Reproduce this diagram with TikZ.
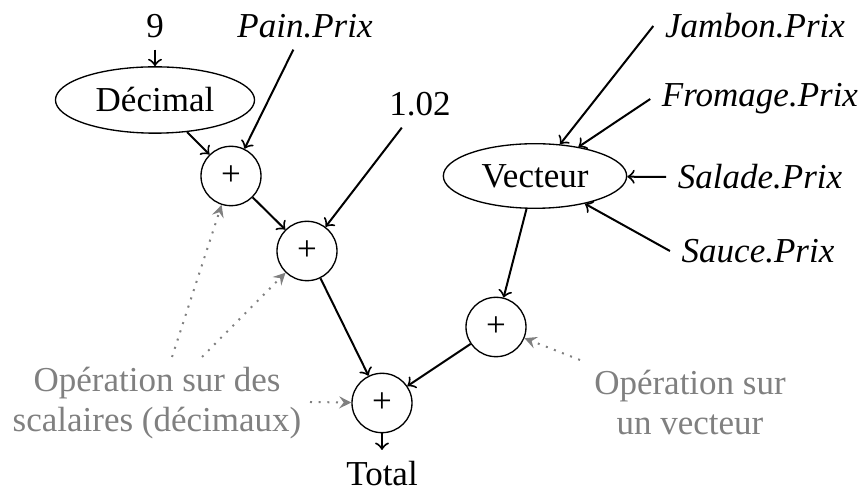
\documentclass[tikz,border=0pt]{standalone}
\usepackage{fontspec}
\setmainfont{Liberation Serif}
\usetikzlibrary{shapes.geometric}
\begin{document}
\begin{tikzpicture}[x=0.3pt, y=-0.3pt,
	every node/.style={font=\fontsize{10.5}{12}\selectfont},
	bloc/.style={ellipse, draw, minimum height=19pt},
	op/.style={ellipse, draw, minimum width=18pt, minimum height=16pt},
	note/.style={gray, align=center},
	fl/.style={->, semithick},
	renvoi/.style={-stealth, gray, dotted, semithick}]
\useasboundingbox (0, 0) rectangle (861, 490);

\node (neuf) at (155, 26) {9};
\node (pain) at (305, 26) {\textit{Pain.Prix}};
\node (jambon) at (755, 26) {\textit{Jambon.Prix}};

\node[bloc, minimum width=59pt] (dec) at (155, 100) {Décimal};
\node (cst) at (420, 104) {1.02};
\node (fromage) at (760, 99) {\textit{Fromage.Prix}};

\node[bloc, minimum width=55pt] (vec) at (535, 176) {Vecteur};
\node (salade) at (760, 177) {\textit{Salade.Prix}};
\node (sauce) at (758, 251) {\textit{Sauce.Prix}};

\node[op] (p1) at (231, 176) {+};
\node[op] (p2) at (307, 251) {+};
\node[op] (p3) at (496, 327) {+};
\node[op] (p4) at (382, 403) {+};

\node (total) at (382, 474) {Total};

\node[note] (n1) at (157, 403) {Opération sur des\\scalaires (décimaux)};
\node[note] (n2) at (690, 403) {Opération sur\\un vecteur};

\coordinate (c1) at (172, 357);
\coordinate (c2) at (202, 357);
\coordinate (c3) at (310, 402);
\coordinate (c4) at (580, 360);

\draw[fl] (neuf) -- (dec);
\draw[fl] (dec) -- (p1);
\draw[fl] (pain) -- (p1);
\draw[fl] (p1) -- (p2);
\draw[fl] (cst) -- (p2);
\draw[fl] (p2) -- (p4);

\draw[fl] (jambon.west) -- (vec);
\draw[fl] (fromage.west) -- (vec);
\draw[fl] (salade.west) -- (vec);
\draw[fl] (sauce.west) -- (vec);

\draw[fl] (vec) -- (p3);
\draw[fl] (p3) -- (p4);
\draw[fl] (p4) -- (total);

\draw[renvoi] (c1) -- (p1);
\draw[renvoi] (c2) -- (p2);
\draw[renvoi] (c3) -- (p4);
\draw[renvoi] (c4) -- (p3);
\end{tikzpicture}
\end{document}
